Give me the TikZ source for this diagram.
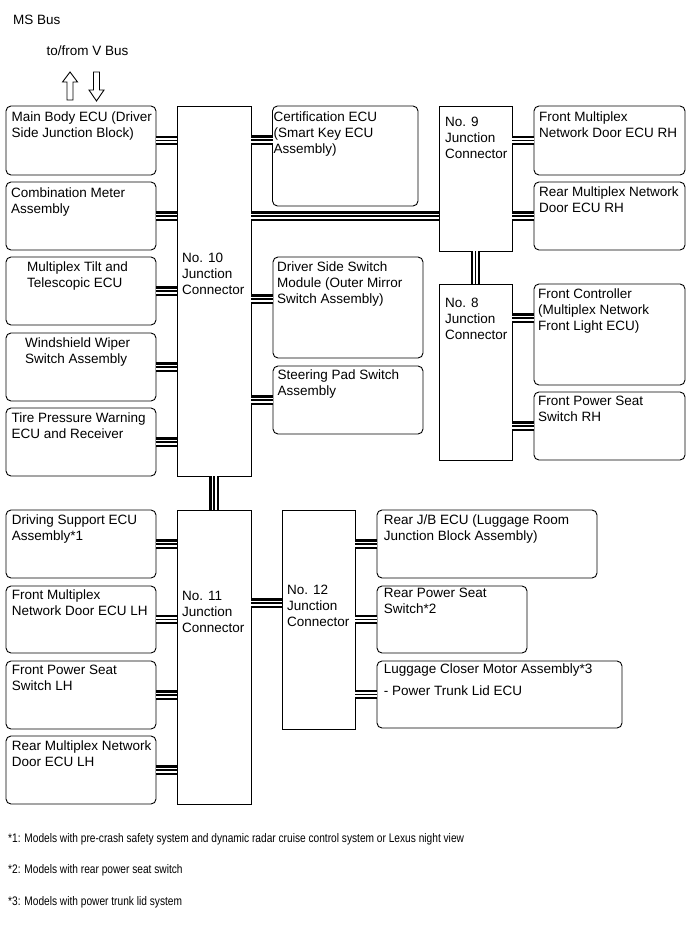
\documentclass[tikz,border=0pt]{standalone}
\usepackage{fontspec}
\setmainfont{Liberation Sans}
\newfontfamily\notefont[FakeStretch=0.82]{Liberation Sans}
\usetikzlibrary{positioning}

\tikzset{
  ecu/.style={draw, rounded corners=5pt, line width=0.9pt, anchor=north west, inner sep=0pt, outer sep=0pt},
  jcbox/.style={draw, line width=0.9pt, anchor=north west, inner sep=0pt, outer sep=0pt},
  txt/.style={inner sep=0pt, anchor=north west, align=left, font=\fontsize{13.5}{16}\selectfont, execute at begin node=\strut},
  note/.style={inner sep=0pt, anchor=base west, font=\notefont\fontsize{12.4}{14}\selectfont},
  bus/.style={draw=white, line width=5pt, preaction={draw=black, line width=9.5pt}, postaction={draw=black, line width=1.8pt}},
  hollow/.style={draw, line width=0.9pt, fill=white, line join=miter},
}

\begin{document}
\begin{tikzpicture}[x=1pt, y=-1pt]
  \fill[white] (0,0) rectangle (690,950);
  \useasboundingbox (0,0) rectangle (690,950);

  \node[txt, anchor=base west] (msbus) at (13,24.5) {MS Bus};
  \node[txt, anchor=base west] (vbus) at (46.5,55.5) {to/from V Bus};
  \draw[hollow] (67,100) -- (67,82) -- (62.5,82) -- (70,72) -- (77.5,82) -- (73,82) -- (73,100) -- cycle;
  \draw[hollow] (93.5,72) -- (93.5,90) -- (89,90) -- (96.5,101) -- (104,90) -- (99.5,90) -- (99.5,72) -- cycle;

  \foreach \nm/\x/\y/\w/\h/\dx/\dy/\txt in {
    mbecu/6/106/150/69/5.5/5.3/{Main Body ECU (Driver\\Side Junction Block)},
    meter/6/182/150/68/5/5.3/{Combination Meter\\Assembly},
    tilt/6/257/150/68/21/5/{Multiplex Tilt and\\Telescopic ECU},
    wiper/6/333/150/68/19/4.1/{Windshield Wiper\\Switch Assembly},
    tire/6/408/150/68/5.5/4.1/{Tire Pressure Warning\\ECU and Receiver},
    certecu/272.5/106/145.5/100/1/5.3/{Certification ECU\\(Smart Key ECU\\Assembly)},
    mirrorsw/273/257/150/101/4/4.3/{Driver Side Switch\\Module (Outer Mirror\\Switch Assembly)},
    padsw/273/366/150/68/4.5/3.8/{Steering Pad Switch\\Assembly},
    fdoorrh/534/106/151/69/5/6/{Front Multiplex\\Network Door ECU RH},
    rdoorrh/534/182/151/68/5/4.3/{Rear Multiplex Network\\Door ECU RH},
    frontctl/534/284/151/101/4/4.8/{Front Controller\\(Multiplex Network\\Front Light ECU)},
    fseatrh/534/392/151/68/4/4.3/{Front Power Seat\\Switch RH},
    drvsup/6/510/150/68/5.7/4.8/{Driving Support ECU\\Assembly*1},
    fdoorlh/6/586/150/67/5.7/3.8/{Front Multiplex\\Network Door ECU LH},
    fseatlh/6/661/150/68/5.7/3.8/{Front Power Seat\\Switch LH},
    rdoorlh/6/736/150/68/5.7/4.3/{Rear Multiplex Network\\Door ECU LH},
    rearjb/377/510/220/68/6.7/4.8/{Rear J/B ECU (Luggage Room\\Junction Block Assembly)},
    rseat/377/586/150/67/6.7/2.3/{Rear Power Seat\\Switch*2},
    luggage/377/661/245/67/6.7/2.3/{Luggage Closer Motor Assembly*3\\[6.7pt]- Power Trunk Lid ECU}} {
    \node[ecu, minimum width=\w pt, minimum height=\h pt] (\nm) at (\x,\y) {};
    \node[txt, below right=\dy pt and \dx pt of \nm.north west] (\nm lbl) {\txt};
  }

  \foreach \nm/\x/\y/\w/\h/\dx/\dy/\num in {
    jc10/177/106/74/370/5/147/10,
    jc9/439/106/73/145/6/11.3/9,
    jc8/439/284/73/176/6/14/8,
    jc11/177/510/74/294/5/80.8/11,
    jc12/282/510/73/219/5/74.8/12} {
    \node[jcbox, minimum width=\w pt, minimum height=\h pt] (\nm) at (\x,\y) {};
    \node[txt, below right=\dy pt and \dx pt of \nm.north west] (\nm lbl) {No. \num\\Junction\\Connector};
  }

  \foreach \a/\b in {mbecu/jc10, meter/jc10, tilt/jc10, wiper/jc10, tire/jc10,
                     drvsup/jc11, fdoorlh/jc11, fseatlh/jc11, rdoorlh/jc11}
    \draw[bus] (\a.east) -- (\a.east -| \b.west);
  \foreach \a/\b in {padsw/jc10, fdoorrh/jc9, rdoorrh/jc9, fseatrh/jc8,
                     rearjb/jc12, rseat/jc12, luggage/jc12}
    \draw[bus] (\a.west) -- (\a.west -| \b.east);

  \coordinate (certbus) at ([yshift=16pt]certecu.west);
  \coordinate (mirrorbus) at ([yshift=8.5pt]mirrorsw.west);
  \coordinate (ctlbus) at ([yshift=16.5pt]frontctl.west);
  \coordinate (jc12bus) at ([yshift=16.5pt]jc12.west);
  \draw[bus] (certbus) -- (certbus -| jc10.east);
  \draw[bus] (mirrorbus) -- (mirrorbus -| jc10.east);
  \draw[bus] (ctlbus) -- (ctlbus -| jc8.east);
  \draw[bus] (jc12bus) -- (jc12bus -| jc11.east);
  \draw[bus] (jc10.east |- rdoorrh.west) -- (jc9.west |- rdoorrh.west);
  \draw[bus] (jc10.south) -- (jc11.north);
  \draw[bus] (jc9.south) -- (jc8.north);

  \foreach \n/\y/\txt in {
    1/842.6/{Models with pre-crash safety system and dynamic radar cruise control system or Lexus night view},
    2/873.6/{Models with rear power seat switch},
    3/905.6/{Models with power trunk lid system}}
    \node[note] (fn\n) at (8,\y) {*\n: \txt};
\end{tikzpicture}
\end{document}
